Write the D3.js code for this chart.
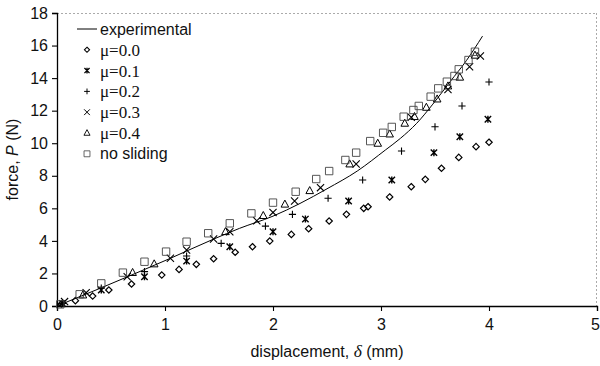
<!DOCTYPE html>
<html><head><meta charset="utf-8">
<script src="https://cdn.jsdelivr.net/npm/d3@7"></script>
<style>body{margin:0;background:#fff}svg{display:block}</style>
</head><body>
<svg id="chart" width="600" height="366"></svg>
<script>
const xTicks = [0,1,2,3,4,5];
const yTicks = [0,2,4,6,8,10,12,14,16,18];

const expX = [0,0.4,1.05,1.45,1.69,2.0,2.25,2.5,2.78,3.04,3.18,3.33,3.48,3.64,3.79,3.94];
const expY = [0,1.09,2.93,4.11,4.77,5.52,6.3,7.2,8.29,9.58,10.3,11.22,12.4,13.78,15.07,16.58];

const mu0X = [0.04,0.17,0.33,0.48,0.69,0.97,1.13,1.29,1.45,1.65,1.81,1.97,2.17,2.33,2.52,2.68,2.84,2.88,3.08,3.28,3.41,3.56,3.72,3.88,4.0];
const mu0Y = [0.12,0.33,0.61,0.98,1.35,1.9,2.25,2.56,2.9,3.3,3.64,3.99,4.4,4.75,5.22,5.63,6.0,6.1,6.7,7.33,7.78,8.46,9.13,9.79,10.06];

const mu1X = [0.05,0.41,0.81,1.2,1.6,2.0,2.3,2.7,3.1,3.49,3.73,3.99];
const mu1Y = [0.15,0.98,1.8,2.76,3.64,4.56,5.34,6.45,7.74,9.42,10.4,11.47];

const mu2X = [0.05,0.41,0.81,1.2,1.52,1.93,2.18,2.51,2.83,3.19,3.5,3.75,4.0];
const mu2Y = [0.15,1.1,2.11,3.07,3.85,4.91,5.63,6.62,7.74,9.52,11.01,12.29,13.76];

const mu3X = [0.07,0.27,0.65,1.05,1.2,1.45,1.6,1.85,2.0,2.2,2.44,2.77,3.28,3.62,3.82,3.92];
const mu3Y = [0.27,0.82,1.8,2.93,3.44,4.12,4.56,5.24,5.75,6.45,7.27,8.72,11.6,13.3,14.7,15.36];

const mu4X = [0.24,0.7,0.9,1.56,1.91,2.11,2.34,2.71,2.97,3.08,3.22,3.31,3.42,3.52,3.62,3.73,3.87];
const mu4Y = [0.67,2.05,2.58,4.56,5.55,6.25,7.08,8.72,9.99,10.56,11.22,11.63,12.2,12.71,13.51,14.05,15.4];

const nsX = [0.03,0.21,0.41,0.61,0.81,1.01,1.2,1.4,1.6,1.8,2.0,2.21,2.4,2.52,2.67,2.77,2.9,3.02,3.1,3.21,3.3,3.35,3.46,3.53,3.61,3.68,3.72,3.81,3.87];
const nsY = [0.1,0.72,1.39,2.05,2.72,3.34,3.95,4.47,5.08,5.69,6.35,7.02,7.8,8.29,8.97,9.42,10.13,10.64,11.0,11.63,12.04,12.29,12.86,13.37,13.78,14.13,14.54,15.11,15.62];

const legendLabels = ["experimental","μ=0.0","μ=0.1","μ=0.2","μ=0.3","μ=0.4","no sliding"];

const svg = d3.select("#chart");
const L = 57, R = 597, T = 13, B = 306;
const x = d3.scaleLinear().domain([0,5]).range([L,R]);
const y = d3.scaleLinear().domain([0,18]).range([B,T]);
const sans = "'Liberation Sans', Arial, Helvetica, sans-serif";
const serif = "'Liberation Serif', 'Times New Roman', serif";

// plot frame (dotted top/right)
svg.append("line").attr("x1",L).attr("x2",R).attr("y1",T+0.5).attr("y2",T+0.5)
  .attr("stroke","#aaa").attr("stroke-width",1).attr("stroke-dasharray","2,2");
svg.append("line").attr("x1",R-0.5).attr("x2",R-0.5).attr("y1",T).attr("y2",B)
  .attr("stroke","#aaa").attr("stroke-width",1).attr("stroke-dasharray","2,2");

// axes
const xAxis = svg.append("g").attr("transform",`translate(0,${B})`)
  .call(d3.axisBottom(x).tickValues(xTicks).tickFormat(d3.format("d")).tickSizeOuter(0).tickSize(5).tickPadding(8));
const yAxis = svg.append("g").attr("transform",`translate(${L},0)`)
  .call(d3.axisLeft(y).tickValues(yTicks).tickFormat(d3.format("d")).tickSizeOuter(0).tickSize(5).tickPadding(4));
[xAxis,yAxis].forEach(g=>{
  g.select(".domain").attr("stroke","#000").attr("stroke-width",1.3);
  g.selectAll(".tick line").attr("stroke","#000").attr("stroke-width",1.1);
  g.selectAll(".tick text").attr("font-family",sans).attr("font-size",16).attr("fill","#111");
});
xAxis.selectAll(".tick text").filter(d=>d===5).attr("dx",-2);

// axis titles
const xt = svg.append("text").attr("x",(L+R)/2).attr("y",357).attr("text-anchor","middle")
  .attr("font-family",sans).attr("font-size",16).attr("fill","#111");
xt.append("tspan").text("displacement, ");
xt.append("tspan").attr("font-style","italic").attr("font-family",serif).attr("font-size",17.5).text("δ");
xt.append("tspan").text(" (mm)");
const yt = svg.append("text").attr("transform",`translate(18,${(T+B)/2}) rotate(-90)`).attr("text-anchor","middle")
  .attr("font-family",sans).attr("font-size",16).attr("fill","#111");
yt.append("tspan").text("force, ");
yt.append("tspan").attr("font-style","italic").text("P");
yt.append("tspan").text(" (N)");

// marker shapes
function markerPath(type, s){
  const p = d3.path();
  if(type==="diamond"){ p.moveTo(0,-s); p.lineTo(s,0); p.lineTo(0,s); p.lineTo(-s,0); p.closePath(); }
  else if(type==="square"){ p.rect(-s,-s,2*s,2*s); }
  else if(type==="triangle"){ p.moveTo(0,-s*1.1); p.lineTo(s,s*0.75); p.lineTo(-s,s*0.75); p.closePath(); }
  else if(type==="times"){ p.moveTo(-s,-s); p.lineTo(s,s); p.moveTo(-s,s); p.lineTo(s,-s); }
  else if(type==="plus"){ p.moveTo(-s,0); p.lineTo(s,0); p.moveTo(0,-s); p.lineTo(0,s); }
  else if(type==="asterisk"){ p.moveTo(-s,-s); p.lineTo(s,s); p.moveTo(-s,s); p.lineTo(s,-s); p.moveTo(0,-s*1.1); p.lineTo(0,s*1.1); }
  return p.toString();
}

const series = [
  {xs:mu0X, ys:mu0Y, type:"diamond", size:3.2, color:"#000", w:1.2},
  {xs:mu1X, ys:mu1Y, type:"asterisk", size:3.2, color:"#000", w:1.4},
  {xs:mu2X, ys:mu2Y, type:"plus", size:3.6, color:"#000", w:1.1},
  {xs:mu3X, ys:mu3Y, type:"times", size:3.6, color:"#000", w:1.1},
  {xs:mu4X, ys:mu4Y, type:"triangle", size:3.8, color:"#000", w:1.0},
  {xs:nsX, ys:nsY, type:"square", size:3.7, color:"#444", w:0.9}
];

// experimental line
const line = d3.line().x(d=>x(d[0])).y(d=>y(d[1])).curve(d3.curveMonotoneX);
svg.append("path").datum(d3.zip(expX,expY)).attr("d",line)
  .attr("fill","none").attr("stroke","#000").attr("stroke-width",1);

series.forEach(s=>{
  svg.append("g").selectAll("path").data(d3.zip(s.xs,s.ys)).join("path")
    .attr("transform",d=>`translate(${x(d[0])},${y(d[1])})`)
    .attr("d",markerPath(s.type,s.size))
    .attr("fill","none").attr("stroke",s.color).attr("stroke-width",s.w);
});

// legend
const lg = svg.append("g");
const rowY = i => 29 + i*20.8;
lg.append("line").attr("x1",77).attr("x2",97).attr("y1",rowY(0)).attr("y2",rowY(0))
  .attr("stroke","#000").attr("stroke-width",1);
series.forEach((s,i)=>{
  lg.append("path").attr("transform",`translate(87,${rowY(i+1)})`)
    .attr("d",markerPath(s.type,s.size*0.8)).attr("fill","none").attr("stroke",s.color).attr("stroke-width",s.w*0.9);
});
legendLabels.forEach((t,i)=>{
  const isMu = t.startsWith("μ");
  lg.append("text").attr("x",100).attr("y",rowY(i)).attr("dy","0.35em")
    .attr("font-family",isMu?serif:sans).attr("font-size",isMu?17:16).attr("fill","#111").text(t);
});
</script>
</body></html>
